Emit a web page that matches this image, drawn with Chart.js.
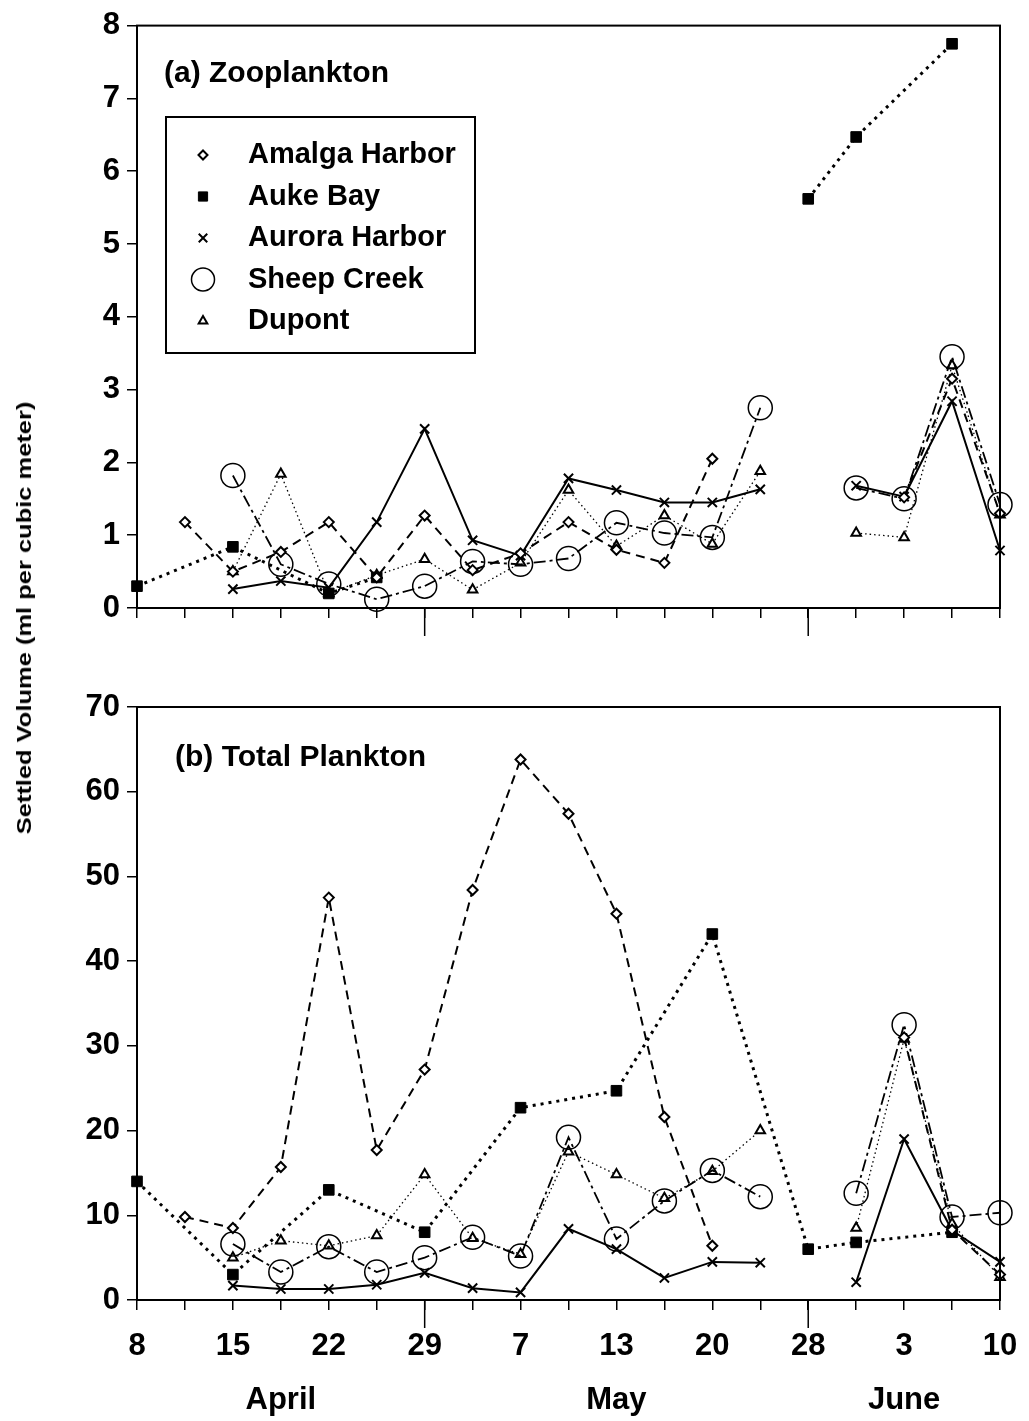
<!DOCTYPE html>
<html>
<head>
<meta charset="utf-8">
<script src="https://cdn.jsdelivr.net/npm/chart.js@4/dist/chart.umd.min.js"></script>
<style>
  body { margin: 0; background: #fff; width: 1029px; height: 1421px; position: relative; overflow: hidden;
         font-family: "Liberation Sans", Arial, sans-serif; color: #000; }
  #cajaA { position: absolute; left: 0; top: 0; }
  #cajaB { position: absolute; left: 0; top: 650px; }
  .titulo { position: absolute; font-weight: bold; font-size: 30px; line-height: 1; white-space: nowrap; }
  #ejeY { position: absolute; left: 24px; top: 618px; font-weight: bold; font-size: 21px; white-space: nowrap;
          transform: translate(-50%, -50%) rotate(-90deg); }
</style>
</head>
<body>
<canvas id="cajaA" width="1029" height="650"></canvas>
<canvas id="cajaB" width="1029" height="771"></canvas>
<div class="titulo" style="left:164px; top:57px;">(a) Zooplankton</div>
<div class="titulo" style="left:175px; top:741px;">(b) Total Plankton</div>
<div id="ejeY">Settled Volume (ml per cubic meter)</div>

<script>
// fechas de muestreo (cada paso es media semana)
const fechas = ['8', '', '15', '', '22', '', '29', '', '7', '', '13', '', '20', '', '28', '', '3', '', '10'];
const meses  = ['', '', '', 'April', '', '', '', '', '', '', 'May', '', '', '', '', '', 'June', '', ''];
const ticksLargos = [6, 14];

const estaciones = ['Amalga Harbor', 'Auke Bay', 'Aurora Harbor', 'Sheep Creek', 'Dupont'];

// (a) zooplancton
const amalgaZoo = [null, 1.18, 0.50, 0.77, 1.18, 0.42, 1.27, 0.52, 0.75, 1.18, 0.80, 0.62, 2.05, null, null, null, 1.52, 3.15, 1.30];
const aukeZoo   = [0.30, null, 0.84, null, 0.20, 0.42, null, null, null, null, null, null, null, null, 5.62, 6.47, null, 7.75, null];
const auroraZoo = [null, null, 0.26, 0.37, 0.28, 1.18, 2.46, 0.93, 0.72, 1.78, 1.62, 1.45, 1.45, 1.63, null, 1.68, 1.53, 2.84, 0.79];
const sheepZoo  = [null, null, 1.82, 0.60, 0.33, 0.12, 0.30, 0.64, 0.60, 0.68, 1.17, 1.03, 0.97, 2.75, null, 1.65, 1.50, 3.45, 1.42];
const dupontZoo = [null, null, 0.50, 1.84, 0.20, 0.45, 0.67, 0.25, 0.62, 1.62, 0.85, 1.27, 0.88, 1.88, null, 1.03, 0.97, 3.33, 1.28];

// (b) plancton total
const amalgaTot = [null, 9.8, 8.5, 15.7, 47.5, 17.7, 27.2, 48.4, 63.8, 57.4, 45.6, 21.6, 6.4, null, null, null, 31.0, 8.3, 3.0];
const aukeTot   = [14.0, null, 3.0, null, 13.0, null, 8.0, null, 22.7, null, 24.7, null, 43.2, null, 6.0, 6.8, null, 8.0, null];
const auroraTot = [null, null, 1.7, 1.3, 1.3, 1.8, 3.2, 1.4, 0.9, 8.4, 6.0, 2.6, 4.5, 4.4, null, 2.1, 19.0, 8.2, 4.5];
const sheepTot  = [null, null, 6.6, 3.3, 6.3, 3.3, 5.0, 7.4, 5.2, 19.2, 7.2, 11.7, 15.3, 12.2, null, 12.6, 32.5, 9.8, 10.3];
const dupontTot = [null, null, 5.0, 7.0, 6.4, 7.6, 14.8, 7.3, 5.4, 17.5, 14.8, 12.0, 15.2, 20.0, null, 8.5, 30.8, 9.0, 2.7];

const fuente = '"Liberation Sans", Arial, sans-serif';

// estilo de cada estacion: marcador y tipo de linea
// saltoMax: distancia maxima (en pasos) que la linea puede unir
const estilos = [
  { pointStyle: 'rectRot', pointRadius: 5, pointBorderWidth: 2, pointBackgroundColor: '#fff',
    borderDash: [9, 6], borderWidth: 2, saltoMax: 1, tamLeyenda: 4.5 },
  { pointStyle: 'rect', pointRadius: 7.5, pointBorderWidth: 1, pointBackgroundColor: '#000',
    borderDash: [3, 5], borderWidth: 3, saltoMax: 2, tamLeyenda: 6.5 },
  { pointStyle: 'crossRot', pointRadius: 6.5, pointBorderWidth: 2, pointBackgroundColor: '#000',
    borderDash: [], borderWidth: 2, saltoMax: 1, tamLeyenda: 6 },
  { pointStyle: 'circle', pointRadius: 12, pointBorderWidth: 1.5, pointBackgroundColor: 'rgba(0,0,0,0)',
    borderDash: [12, 4, 3, 4], borderWidth: 1.8, saltoMax: 1, tamLeyenda: 11.5 },
  { pointStyle: 'triangle', pointRadius: 5.5, pointBorderWidth: 2, pointBackgroundColor: '#fff',
    borderDash: [1.5, 3], borderWidth: 1.3, saltoMax: 1, tamLeyenda: 5 }
];

function armarSeries(listas) {
  return listas.map((valores, i) => {
    const e = estilos[i];
    return {
      label: estaciones[i],
      data: valores.map((v, j) => ({ x: j, y: v })).filter(p => p.y !== null),
      borderColor: '#000',
      pointBorderColor: '#000',
      pointBackgroundColor: e.pointBackgroundColor,
      pointStyle: e.pointStyle,
      pointRadius: e.pointRadius,
      pointBorderWidth: e.pointBorderWidth,
      borderDash: e.borderDash,
      borderWidth: e.borderWidth,
      borderCapStyle: 'butt',
      spanGaps: e.saltoMax,
      clip: false,
      tension: 0,
      fill: false
    };
  });
}

// marco del area de datos y ticks largos del eje x
const marco = {
  id: 'marco',
  afterDraw(chart) {
    const a = chart.chartArea, ctx = chart.ctx, x = chart.scales.x;
    ctx.save();
    ctx.strokeStyle = '#000';
    ctx.lineWidth = 2;
    ctx.strokeRect(a.left, a.top, a.right - a.left, a.bottom - a.top);
    ctx.lineWidth = 1.5;
    ticksLargos.forEach(i => {
      const px = x.getPixelForValue(i);
      ctx.beginPath();
      ctx.moveTo(px, a.bottom);
      ctx.lineTo(px, a.bottom + 28);
      ctx.stroke();
    });
    ctx.restore();
  }
};

const leyenda = {
  id: 'leyenda',
  afterDraw(chart) {
    const ctx = chart.ctx;
    ctx.save();
    ctx.fillStyle = '#fff';
    ctx.fillRect(166, 117, 309, 236);
    ctx.strokeStyle = '#000';
    ctx.lineWidth = 2;
    ctx.strokeRect(166, 117, 309, 236);
    chart.data.datasets.forEach((ds, i) => {
      const y = 155 + i * 41.5;
      const e = estilos[i];
      ctx.fillStyle = e.pointBackgroundColor;
      ctx.strokeStyle = '#000';
      ctx.lineWidth = e.pointBorderWidth;
      Chart.helpers.drawPoint(ctx, { pointStyle: e.pointStyle, radius: e.tamLeyenda, borderWidth: e.pointBorderWidth, rotation: 0 }, 203, y);
      ctx.fillStyle = '#000';
      ctx.font = 'bold 29px ' + fuente;
      ctx.textBaseline = 'middle';
      ctx.fillText(ds.label, 248, y);
    });
    ctx.restore();
  }
};

function opciones(maxY, paso, conEtiquetas, altoEjeX, margenArriba) {
  return {
    responsive: false,
    animation: false,
    layout: { padding: { top: margenArriba, right: 29, left: 0, bottom: 0 } },
    plugins: { legend: { display: false }, tooltip: { enabled: false } },
    scales: {
      x: {
        type: 'linear',
        min: 0,
        max: fechas.length - 1,
        grid: { drawOnChartArea: false, drawTicks: true, tickLength: 10, color: '#000', lineWidth: 1.5 },
        border: { display: true, color: '#000', width: 2 },
        ticks: {
          display: conEtiquetas,
          stepSize: 1,
          autoSkip: false,
          maxRotation: 0,
          minRotation: 0,
          padding: 10,
          color: '#000',
          font: { family: fuente, weight: 'bold', size: 31, lineHeight: 1.72 },
          callback: v => {
            if (!fechas[v] && !meses[v]) return '';
            return meses[v] ? [fechas[v], meses[v]] : fechas[v];
          }
        },
        afterFit: s => { s.height = altoEjeX; }
      },
      y: {
        min: 0,
        max: maxY,
        grid: { drawOnChartArea: false, drawTicks: true, tickLength: 10, color: '#000', lineWidth: 1.5 },
        border: { display: true, color: '#000', width: 2 },
        ticks: { stepSize: paso, padding: 7, color: '#000', font: { family: fuente, weight: 'bold', size: 31 } },
        afterFit: s => { s.width = 137; }
      }
    }
  };
}

new Chart(document.getElementById('cajaA'), {
  type: 'line',
  data: { datasets: armarSeries([amalgaZoo, aukeZoo, auroraZoo, sheepZoo, dupontZoo]) },
  options: opciones(8, 1, false, 42, 19),
  plugins: [marco, leyenda]
});

new Chart(document.getElementById('cajaB'), {
  type: 'line',
  data: { datasets: armarSeries([amalgaTot, aukeTot, auroraTot, sheepTot, dupontTot]) },
  options: opciones(70, 10, true, 121, 57),
  plugins: [marco]
});

// estirar el titulo del eje y como en el original
const ejeY = document.getElementById('ejeY');
const largo = ejeY.offsetWidth;
ejeY.style.transform = 'translate(-50%, -50%) rotate(-90deg) scaleX(' + (433 / largo) + ')';
</script>
</body>
</html>
